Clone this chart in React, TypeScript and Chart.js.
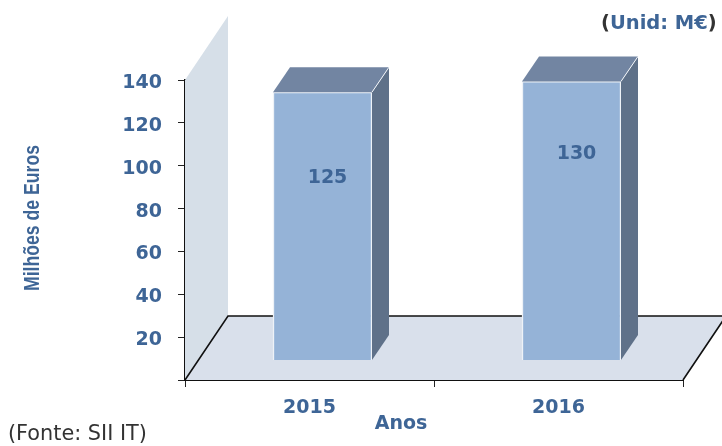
import React, { useEffect, useRef } from "react";
import { Chart, registerables } from "chart.js";

Chart.register(...registerables);

const categories = ["2015", "2016"];
const values = [125, 130];
const valueLabelLevels = [85, 96.2];
const yTicks = [0, 20, 40, 60, 80, 100, 120, 140];
const yTitle = "Milhões de Euros";
const xTitle = "Anos";
const sourceNote = "(Fonte: SII IT)";
const unitNote = "Unid: M€";

const BLUE = "#3e6596";
const TICK_SIZE = 19;
const TICK_FONT = `bold ${TICK_SIZE}px 'DejaVu Sans'`;
const W = 722;
const H = 446;

const depthPlugin = {
  id: "depth",
  beforeDatasetsDraw(chart: any) {
    const { ctx, scales } = chart;
    const { right, top, bottom } = scales.y;
    const r = scales.x.right;
    const dx = 43;
    const dy = 64;
    ctx.save();
    // side wall
    ctx.fillStyle = "#d6dfe8";
    ctx.beginPath();
    ctx.moveTo(right, bottom);
    ctx.lineTo(right, top);
    ctx.lineTo(right + dx, top - dy);
    ctx.lineTo(right + dx, bottom - dy);
    ctx.closePath();
    ctx.fill();
    // floor
    ctx.fillStyle = "#d9e0eb";
    ctx.beginPath();
    ctx.moveTo(right, bottom);
    ctx.lineTo(r, bottom);
    ctx.lineTo(r + dx, bottom - dy);
    ctx.lineTo(right + dx, bottom - dy);
    ctx.closePath();
    ctx.fill();
    ctx.strokeStyle = "#111111";
    ctx.lineWidth = 1.6;
    ctx.beginPath();
    ctx.moveTo(right, bottom);
    ctx.lineTo(right + dx, bottom - dy);
    ctx.lineTo(r + dx, bottom - dy);
    ctx.lineTo(r, bottom);
    ctx.stroke();
    ctx.restore();
  },
  beforeDatasetDraw(chart: any) {
    chart.ctx.save();
    chart.ctx.translate(13, 0);
  },
  afterDatasetDraw(chart: any) {
    chart.ctx.restore();
  },
  afterDatasetsDraw(chart: any) {
    const { ctx, scales } = chart;
    const meta = chart.getDatasetMeta(0);
    const dx = 17;
    const dy = 25;
    ctx.save();
    meta.data.forEach((bar: any, i: number) => {
      const p = bar.getProps(["x", "y", "base", "width"], true);
      const l = p.x + 13 - p.width / 2;
      const rr = p.x + 13 + p.width / 2;
      ctx.strokeStyle = "#f2f5f9";
      ctx.lineWidth = 1;
      ctx.fillStyle = "#7285a2";
      ctx.beginPath();
      ctx.moveTo(l, p.y);
      ctx.lineTo(l + dx, p.y - dy);
      ctx.lineTo(rr + dx, p.y - dy);
      ctx.lineTo(rr, p.y);
      ctx.closePath();
      ctx.fill();
      ctx.fillStyle = "#5f7189";
      ctx.beginPath();
      ctx.moveTo(rr, p.y);
      ctx.lineTo(rr + dx, p.y - dy);
      ctx.lineTo(rr + dx, p.base - dy);
      ctx.lineTo(rr, p.base);
      ctx.closePath();
      ctx.fill();
      ctx.beginPath();
      ctx.moveTo(rr, p.y);
      ctx.lineTo(rr + dx, p.y - dy);
      ctx.stroke();
      ctx.fillStyle = BLUE;
      ctx.font = TICK_FONT;
      ctx.textAlign = "center";
      ctx.textBaseline = "middle";
      ctx.fillText(String(values[i]), p.x + 18, scales.y2.getPixelForValue(valueLabelLevels[i]));
    });
    ctx.restore();
  },
  afterDraw(chart: any) {
    const { ctx, scales } = chart;
    ctx.save();
    ctx.textBaseline = "middle";
    // y title
    ctx.save();
    ctx.translate(33, 218);
    ctx.rotate(-Math.PI / 2);
    ctx.font = "bold 22px 'Liberation Sans'";
    ctx.fillStyle = BLUE;
    ctx.textAlign = "center";
    ctx.scale(146 / ctx.measureText(yTitle).width, 1);
    ctx.fillText(yTitle, 0, 0);
    ctx.restore();
    // x title
    ctx.font = TICK_FONT;
    ctx.fillStyle = BLUE;
    ctx.textAlign = "center";
    ctx.fillText(xTitle, scales.x.left + 216, 424);
    // source
    ctx.font = "20.8px 'DejaVu Sans'";
    ctx.fillStyle = "#333333";
    ctx.textAlign = "left";
    ctx.fillText(sourceNote, 8, 435);
    // unit
    ctx.font = "bold 19.5px 'DejaVu Sans'";
    let x = 601;
    ctx.fillStyle = "#333333";
    ctx.fillText("(", x, 24);
    x += ctx.measureText("(").width;
    ctx.fillStyle = BLUE;
    ctx.fillText(unitNote, x, 24);
    x += ctx.measureText(unitNote).width;
    ctx.fillStyle = "#333333";
    ctx.fillText(")", x, 24);
    ctx.restore();
  },
};

export default function App() {
  const ref = useRef<HTMLCanvasElement>(null);
  useEffect(() => {
    document.body.style.margin = "0";
    const unitPx = 300 / 140;
    const shift = 20 / unitPx;
    const chart = new Chart(ref.current as HTMLCanvasElement, {
      type: "bar",
      data: {
        labels: categories,
        datasets: [
          {
            data: values,
            yAxisID: "y2",
            backgroundColor: "#95b3d7",
            borderColor: "#eef2f7",
            borderWidth: 1.5,
            barThickness: 99,
            clip: false,
          },
        ],
      },
      options: {
        responsive: false,
        animation: false,
        devicePixelRatio: 1,
        layout: { padding: { left: 0, right: W - 683, top: 80, bottom: 0 } },
        plugins: { legend: { display: false }, tooltip: { enabled: false } },
        scales: {
          x: {
            type: "category",
            afterFit: (s: any) => {
              s.height = H - 380;
            },
            border: { color: "#111111", width: 2 },
            grid: { offset: true, drawOnChartArea: false, color: "#222222", tickLength: 7, lineWidth: 1 },
            ticks: { color: BLUE, font: { family: "DejaVu Sans", weight: "bold", size: TICK_SIZE }, padding: 10, maxRotation: 0 },
          },
          y: {
            min: 0,
            max: 140,
            afterFit: (s: any) => {
              s.width = 185;
            },
            afterBuildTicks: (s: any) => {
              s.ticks = yTicks.map((v) => ({ value: v }));
            },
            border: { color: "#111111", width: 2 },
            grid: { drawOnChartArea: false, color: "#222222", tickLength: 7, lineWidth: 1 },
            ticks: {
              color: BLUE,
              font: { family: "DejaVu Sans", weight: "bold", size: TICK_SIZE },
              padding: 16,
              labelOffset: 3,
              callback: (v: any) => (v === 0 ? "" : String(v)),
            },
          },
          y2: { display: false, min: -shift, max: 140 - shift },
        },
      } as any,
      plugins: [depthPlugin],
    });
    return () => chart.destroy();
  }, []);
  return <canvas ref={ref} width={W} height={H} style={{ display: "block" }} />;
}
